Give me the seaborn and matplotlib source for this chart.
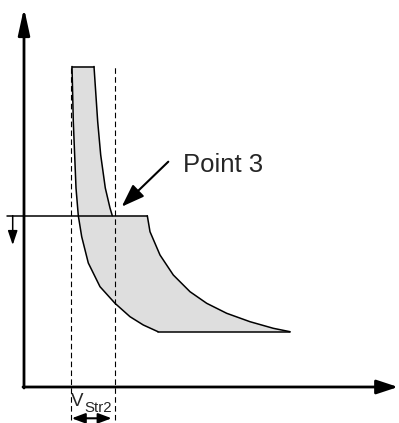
import matplotlib
matplotlib.use("Agg")
import matplotlib.pyplot as plt
import seaborn as sns

sns.set_theme(style="white")
plt.rcParams["font.family"] = ["Liberation Sans", "DejaVu Sans"]

# Schematic curves (plot units, origin at the axes corner)
left_x = [48, 49.3, 52, 54.3, 57.7, 64.3, 76, 91, 106, 119.3, 134]
left_y = [320.5, 265.3, 199, 171.3, 150.3, 124, 100.3, 83.7, 70.3, 62, 55.3]

upper_x = [70, 73.7, 76.7, 81.3, 86, 88.3]
upper_y = [320.5, 265.3, 232, 199, 179, 171.3]

lower_x = [123.3, 126, 136, 149.3, 166, 182.7, 202.7, 226, 249.3, 266]
lower_y = [171.3, 155.3, 132, 112, 95.3, 83.7, 73.7, 65.3, 58.7, 55.3]

top_y = 320.5
level_y = 171.3
level_x = [-17, 123.3]
floor_y = 55.3
dash_x = [47.3, 91]
dash_y = [-33, 321]

point_label = "Point 3"
point_tip = (97.7, 180.3)
point_tail = (144.3, 225.3)

fig = plt.figure(figsize=(3.99, 4.23), dpi=100)
ax = fig.add_axes([0, 0, 1, 1])
ax.set_xlim(-24, 375)
ax.set_ylim(-36, 387)
ax.axis("off")

# shaded band
poly_x = ([left_x[0]] + upper_x + lower_x + [left_x[-1]] + left_x[::-1])
poly_y = ([top_y] + upper_y + lower_y + [floor_y] + left_y[::-1])
ax.fill(poly_x, poly_y, color="#dedede", lw=0, zorder=1)

curve_kw = dict(color="black", linewidth=1.1, sort=False, ax=ax, zorder=3)
sns.lineplot(x=left_x, y=left_y, **curve_kw)
sns.lineplot(x=upper_x, y=upper_y, **curve_kw)
sns.lineplot(x=lower_x, y=lower_y, **curve_kw)
sns.lineplot(x=[left_x[0], upper_x[0]], y=[top_y, top_y], **curve_kw)
sns.lineplot(x=[left_x[-1], lower_x[-1]], y=[floor_y, floor_y], **curve_kw)
sns.lineplot(x=level_x, y=[level_y, level_y], **curve_kw)

# dashed guides
for xv in dash_x:
    ax.plot([xv, xv], dash_y, color="black", lw=0.8, ls=(0, (5, 3)), zorder=4)

def arrow(start, end, style, lw):
    ax.annotate("", xy=end, xytext=start,
                arrowprops=dict(arrowstyle=style, lw=lw, color="black",
                                shrinkA=0, shrinkB=0, mutation_scale=10),
                zorder=5)

# axes with arrows
arrow((0, -1), (0, 379), "-|>,head_length=1.6,head_width=0.35", 2.0)
arrow((-1, 0), (374, 0), "-|>,head_length=1.3,head_width=0.43", 2.0)

# small downward arrow on the level line
arrow((-11.3, level_y), (-11.3, 142), "-|>,head_length=0.86,head_width=0.29", 1.1)

# Point 3 callout
arrow(point_tail, point_tip, "-|>,head_length=1.4,head_width=0.5", 1.5)
ax.text(159, 222, point_label, fontsize=18.5, va="center", ha="left")

# V_Str2 width marker
ax.text(47, -18.7, "V", fontsize=13.5, va="baseline", ha="left")
ax.text(60, -24.7, "Str2", fontsize=10.8, va="baseline", ha="left")
arrow((47.7, -31.3), (87.7, -31.3), "<|-|>,head_length=0.8,head_width=0.3", 1.5)

fig.savefig("out.png", dpi=100)
